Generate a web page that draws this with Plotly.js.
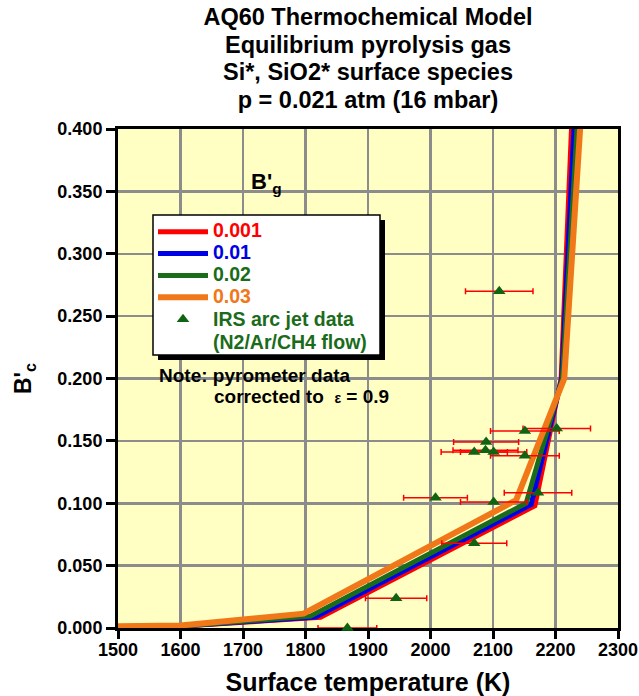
<!DOCTYPE html>
<html>
<head>
<meta charset="utf-8">
<script src="https://cdn.plot.ly/plotly-3.0.1.min.js"></script>
<style>html,body{margin:0;padding:0;background:#fff;}#chart{width:639px;height:696px;}</style>
</head>
<body>
<div id="chart"></div>
<script>
// Model curves: surface temperature (K) vs B'c for each B'g
const seriesNames = ['0.001', '0.01', '0.02', '0.03'];
const seriesColors = ['#ff0000', '#0000e6', '#1a6b1a', '#f07818'];
const tempBg0001 = [1500, 1600, 1824, 2167, 2209, 2226];
const bcBg0001   = [0.001, 0.0015, 0.0085, 0.098, 0.200, 0.405];
const tempBg001  = [1500, 1600, 1816, 2161, 2210, 2230];
const bcBg001    = [0.001, 0.0015, 0.0088, 0.099, 0.200, 0.405];
const tempBg002  = [1500, 1600, 1808, 2153, 2211, 2235];
const bcBg002    = [0.001, 0.0015, 0.0095, 0.100, 0.200, 0.405];
const tempBg003  = [1500, 1600, 1797, 2137, 2214, 2240];
const bcBg003    = [0.0015, 0.002, 0.0115, 0.1025, 0.200, 0.405];

// IRS arc jet data (N2/Ar/CH4 flow)
const dataTemp = [2110, 2151, 2202, 2089, 2070, 2088, 2101, 2151, 2008, 2101, 2172, 2070, 1945, 1867];
const dataBc   = [0.270, 0.158, 0.160, 0.149, 0.141, 0.1425, 0.141, 0.138, 0.1045, 0.101, 0.1085, 0.068, 0.0238, 0.0];
const dataTErr = [54, 55, 54, 52, 53, 52, 53, 55, 51, 53, 54, 52, 49, 47];

const xTicks = [1500, 1600, 1700, 1800, 1900, 2000, 2100, 2200, 2300];
const yTicks = [0, 0.05, 0.1, 0.15, 0.2, 0.25, 0.3, 0.35, 0.4];
const titleLines = ['AQ60 Thermochemical Model', 'Equilibrium pyrolysis gas',
                    'Si*, SiO2* surface species', 'p = 0.021 atm (16 mbar)'];

const FONT = 'Liberation Sans, Arial, Helvetica, sans-serif';
const curveT = [tempBg0001, tempBg001, tempBg002, tempBg003];
const curveB = [bcBg0001, bcBg001, bcBg002, bcBg003];
const widths = [5, 5, 5, 6];
const legendSpan = (c, t) => '<span style="color:' + c + ';font-size:19.5px">' + t + '</span>';

const traces = curveT.map((t, i) => ({
  type: 'scatter', mode: 'lines', x: t, y: curveB[i],
  name: legendSpan(seriesColors[i], seriesNames[i]),
  line: {color: seriesColors[i], width: widths[i]},
  legend: 'legend',
  hoverinfo: 'x+y'
}));
traces.push({
  type: 'scatter', mode: 'markers', x: dataTemp, y: dataBc,
  name: '&nbsp;<br>' + legendSpan('#1a6b1a', 'IRS arc jet data') + '<br>' + legendSpan('#1a6b1a', '(N2/Ar/CH4 flow)'),
  marker: {symbol: 'triangle-up', size: 11, color: '#0f6414'},
  error_x: {type: 'data', array: dataTErr, visible: true, color: '#ff0000', thickness: 1.5, width: 3},
  cliponaxis: false,
  legend: 'legend2'
});

// legend frame (paper coordinates) with drop shadow
const boxX = [0.07, 0.524], boxY = [0.547, 0.8277], shadow = [0.01, 0.01];

const layout = {
  width: 639, height: 696,
  margin: {l: 118, r: 21, t: 129, b: 68},
  paper_bgcolor: '#ffffff',
  plot_bgcolor: '#ffffc4',
  font: {family: FONT, size: 18, color: '#000000', weight: 'bold'},
  showlegend: true,
  title: {
    text: titleLines.map(t => '<span style="font-size:23.5px">' + t + '</span>').join('<br>'),
    font: {family: FONT, size: 21.3, color: '#000000', weight: 'bold'},
    x: 0.5, xref: 'paper', xanchor: 'center',
    y: 0.964, yref: 'container', yanchor: 'top'
  },
  xaxis: {
    range: [1500, 2300], tickvals: xTicks, ticktext: xTicks.map(String),
    showgrid: true, gridcolor: '#8c8c8c', gridwidth: 2.5,
    showline: true, linecolor: '#000000', linewidth: 3, mirror: true,
    ticks: 'outside', ticklen: 8, tickwidth: 3, tickcolor: '#000000',
    tickfont: {family: FONT, size: 18, weight: 'bold'},
    ticklabelstandoff: -5,
    zeroline: false, layer: 'below traces',
    title: {text: 'Surface temperature (K)', font: {family: FONT, size: 25, weight: 'bold'}, standoff: 15}
  },
  yaxis: {
    range: [0, 0.4], tickvals: yTicks, tickformat: '.3f',
    showgrid: true, gridcolor: '#8c8c8c', gridwidth: 2.5,
    showline: true, linecolor: '#000000', linewidth: 3, mirror: true,
    ticks: 'outside', ticklen: 9, tickwidth: 3, tickcolor: '#000000',
    tickfont: {family: FONT, size: 18, weight: 'bold'},
    zeroline: false,
    title: {text: "B'<sub>c</sub>", font: {family: FONT, size: 23, weight: 'bold'}, standoff: 20}
  },
  legend: {
    x: 0.07, y: 0.826, xanchor: 'left', yanchor: 'top',
    bgcolor: 'rgba(0,0,0,0)', borderwidth: 0,
    font: {family: FONT, size: 14.5, weight: 'bold'},
    itemwidth: 50, tracegroupgap: 0
  },
  legend2: {
    x: 0.07, y: 0.7004, xanchor: 'left', yanchor: 'top',
    bgcolor: 'rgba(0,0,0,0)', borderwidth: 0,
    font: {family: FONT, size: 17.5, weight: 'bold'},
    itemwidth: 50, tracegroupgap: 0
  },
  shapes: [
    {type: 'rect', xref: 'paper', yref: 'paper', layer: 'above',
     x0: boxX[0] + shadow[0], x1: boxX[1] + shadow[0], y0: boxY[0] - shadow[1], y1: boxY[1] - shadow[1],
     fillcolor: '#000000', line: {width: 0}},
    {type: 'rect', xref: 'paper', yref: 'paper', layer: 'above',
     x0: boxX[0], x1: boxX[1], y0: boxY[0], y1: boxY[1],
     fillcolor: '#ffffff', line: {color: '#000000', width: 1.5}}
  ],
  annotations: [
    {xref: 'paper', yref: 'paper', x: 0.262, y: 0.892, xanchor: 'left', yanchor: 'middle',
     text: "B'<sub>g</sub>", showarrow: false, font: {family: FONT, size: 22, weight: 'bold'}},
    {xref: 'paper', yref: 'paper', x: 0.077, y: 0.506, xanchor: 'left', yanchor: 'middle',
     text: 'Note: pyrometer data', showarrow: false, font: {family: FONT, size: 19, weight: 'bold'}},
    {xref: 'paper', yref: 'paper', x: 0.187, y: 0.463, xanchor: 'left', yanchor: 'middle',
     text: 'corrected to  <span style="font-size:14px">ε</span> = 0.9', showarrow: false,
     font: {family: FONT, size: 19, weight: 'bold'}}
  ]
};

Plotly.newPlot('chart', traces, layout, {displayModeBar: false, staticPlot: true});
</script>
</body>
</html>
